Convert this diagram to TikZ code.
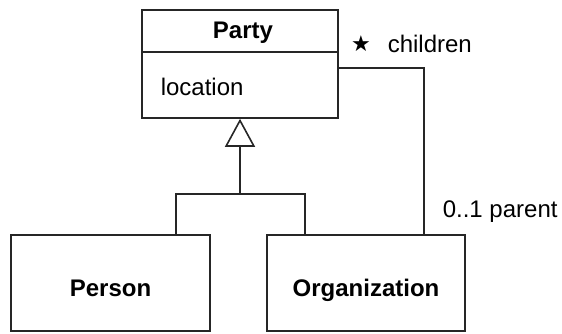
\documentclass[tikz,border=0pt]{standalone}
\usepackage{fontspec}
\setmainfont{Liberation Sans}
\newfontfamily\symfont{DejaVu Sans}
\usetikzlibrary{arrows.meta,calc}
\begin{document}
\begin{tikzpicture}[x=1pt,y=-1pt,
  line width=1.6pt, draw=black!85,
  umlbox/.style={draw, rectangle, inner sep=0pt, line width=1.6pt},
  lbl/.style={inner sep=0pt, anchor=base west, font=\fontsize{24}{27}\selectfont},
  bold/.style={inner sep=0pt, anchor=base, font=\fontsize{24}{27}\selectfont\bfseries}]
\useasboundingbox (0,0) rectangle (562,333);
% Party class
\node[umlbox, minimum width=196pt, minimum height=108pt] (party) at (240,64) {};
\coordinate (divL) at (142,52);
\coordinate (divR) at (338,52);
\draw (divL) -- (divR);
\node[bold] (partyname) at (243,38) {Party};
\node[lbl] (loc) at (160,95) {location};
% subclasses
\node[umlbox, minimum width=199pt, minimum height=96pt] (person) at (110.5,283) {};
\node[umlbox, minimum width=198pt, minimum height=96pt] (org) at (366,283) {};
\node[bold] (personname) at (110.5,296) {Person};
\node[bold] (orgname) at (366,296) {Organization};
% generalization
\coordinate (j) at (240,194);
\coordinate (pt) at ([xshift=65.5pt]person.north);
\coordinate (ot) at ([xshift=-61.3pt]org.north);
\draw (pt) |- (j) -| (ot);
\draw[-{Triangle[open,length=28pt,width=30pt]}] (j) -- (party.south);
% association
\coordinate (a1) at (party.east |- 0,68);
\coordinate (a2) at ([xshift=58pt]org.north);
\draw (a1) -| (a2);
\node[inner sep=0pt, anchor=base, font=\fontsize{22}{24}\symfont] (star) at (361,51) {★};
\node[lbl] (children) at (387,52) {children};
\node[lbl] (parent) at (442,217) {0..1 parent};
\end{tikzpicture}
\end{document}
